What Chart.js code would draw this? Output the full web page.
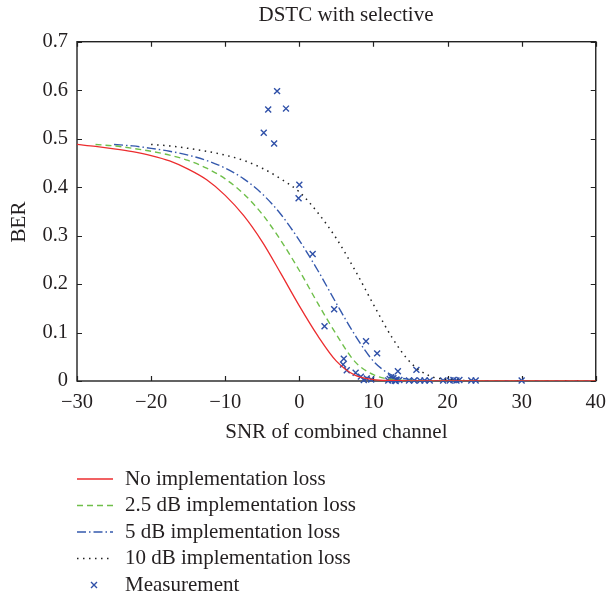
<!DOCTYPE html>
<html>
<head>
<meta charset="utf-8">
<script src="https://cdn.jsdelivr.net/npm/chart.js@4/dist/chart.umd.min.js"></script>
<style>
  html, body { margin: 0; padding: 0; background: #ffffff; }
  #wrap { width: 615px; height: 596px; position: relative; }
</style>
</head>
<body>
<div id="wrap"><canvas id="c" width="615" height="596"></canvas></div>
<script>
// ---- chart texts ----
const titleText = 'DSTC with selective';
const xAxisTitle = 'SNR of combined channel';
const yAxisTitle = 'BER';
const xTicks = [-30, -20, -10, 0, 10, 20, 30, 40];
const yTicks = [0, 0.1, 0.2, 0.3, 0.4, 0.5, 0.6, 0.7];
const seriesNames = [
  'No implementation loss',
  '2.5 dB implementation loss',
  '5 dB implementation loss',
  '10 dB implementation loss',
  'Measurement'
];

// ---- theoretical BER curves (SNR in dB, BER) ----
const snrNoLoss = [-30, -27.5, -25, -22.5, -20, -17.5, -15, -12.5, -10, -7.5, -5, -2.5, 0, 2.5, 5, 7.5, 10, 12.5, 15, 20, 25, 30, 35, 40];
const berNoLoss = [0.488, 0.484, 0.479, 0.473, 0.465, 0.454, 0.437, 0.415, 0.383, 0.341, 0.287, 0.222, 0.155, 0.093, 0.041, 0.012, 0.003, 0.001, 0.0003, 0, 0, 0, 0, 0];

const snrLoss25 = [-27.5, -25, -22.5, -20, -17.5, -15, -12.5, -10, -7.5, -5, -2.5, 0, 2.5, 5, 7.5, 10, 12.5, 15, 17.5, 20, 25, 30, 35, 40];
const berLoss25 = [0.488, 0.485, 0.480, 0.474, 0.466, 0.455, 0.439, 0.417, 0.386, 0.344, 0.290, 0.228, 0.160, 0.096, 0.040, 0.013, 0.003, 0.001, 0.0003, 0, 0, 0, 0, 0];

const snrLoss5 = [-25, -22.5, -20, -17.5, -15, -12.5, -10, -7.5, -5, -2.5, 0, 2.5, 5, 7.5, 10, 12.5, 15, 17.5, 20, 22.5, 25, 30, 35, 40];
const berLoss5 = [0.488, 0.485, 0.480, 0.474, 0.466, 0.455, 0.439, 0.417, 0.386, 0.344, 0.290, 0.228, 0.160, 0.095, 0.041, 0.012, 0.003, 0.001, 0.0003, 0, 0, 0, 0, 0];

const snrLoss10 = [-20, -17.5, -15, -12.5, -10, -7.5, -5, -2.5, 0, 2.5, 5, 7.5, 10, 12.5, 15, 17.5, 20, 22.5, 25, 27.5, 30, 35, 40];
const berLoss10 = [0.488, 0.485, 0.480, 0.474, 0.466, 0.455, 0.439, 0.417, 0.390, 0.347, 0.294, 0.229, 0.158, 0.090, 0.038, 0.011, 0.003, 0.001, 0.0003, 0, 0, 0, 0];

// ---- measured points ----
const measSnr = [-4.8, -4.2, -3.0, -3.4, -1.8, 0.0, -0.1, 1.8, 3.4, 4.7, 6.0, 5.9, 6.4, 7.6, 8.3, 9.0, 10.5, 9.1, 9.7, 8.7,
  12.2, 12.5, 12.7, 12.9, 13.1, 12.4, 13.3, 13.0, 12.0, 13.5, 15.8, 14.8, 15.5, 16.3, 16.9, 17.6, 19.4, 20.3, 20.8, 21.2, 21.6, 23.2, 23.8, 30.0];
const measBer = [0.512, 0.560, 0.598, 0.490, 0.562, 0.405, 0.377, 0.262, 0.113, 0.148, 0.046, 0.034, 0.022, 0.017, 0.009, 0.082, 0.057, 0.005, 0.003, 0.002,
  0.004, 0.002, 0.006, 0.001, 0.003, 0.008, 0.020, 0.000, 0.001, 0.002, 0.023, 0.001, 0.001, 0.001, 0.001, 0.001, 0.001, 0.001, 0.002, 0.001, 0.002, 0.001, 0.001, 0.001];

const toXY = (xs, ys) => xs.map((v, i) => ({ x: v, y: ys[i] }));

const FONT = '"Liberation Serif", "Times New Roman", serif';
const TEXT = '#231f20';
const FS_TICK = 20.5;
const FS_TEXT = 21;

const lineBase = {
  type: 'line',
  fill: false,
  pointRadius: 0,
  cubicInterpolationMode: 'monotone',
  borderCapStyle: 'butt'
};

const datasets = [
  Object.assign({}, lineBase, { label: seriesNames[0], data: toXY(snrNoLoss, berNoLoss), borderColor: '#ec2d2f', borderWidth: 1.3, borderDash: [] }),
  Object.assign({}, lineBase, { label: seriesNames[1], data: toXY(snrLoss25, berLoss25), borderColor: '#6fbf4a', borderWidth: 1.4, borderDash: [6, 4] }),
  Object.assign({}, lineBase, { label: seriesNames[2], data: toXY(snrLoss5, berLoss5), borderColor: '#3559ad', borderWidth: 1.4, borderDash: [9, 3, 1.5, 3] }),
  Object.assign({}, lineBase, { label: seriesNames[3], data: toXY(snrLoss10, berLoss10), borderColor: '#222222', borderWidth: 1.5, borderDash: [1.5, 4.5] }),
  {
    type: 'scatter', label: seriesNames[4], data: toXY(measSnr, measBer),
    showLine: false, pointStyle: 'crossRot', pointRadius: 4.2, pointHoverRadius: 4.2,
    borderColor: '#2f50a8', backgroundColor: '#2f50a8', pointBorderWidth: 1.4, clip: false
  }
];

// frame, inward ticks, axis titles, title and legend
const decor = {
  id: 'decor',
  beforeDatasetsDraw(chart) {
    const { ctx, chartArea: a, scales: { x, y } } = chart;
    ctx.save();
    ctx.strokeStyle = '#222222';
    ctx.lineWidth = 1.4;
    ctx.strokeRect(a.left, a.top, a.right - a.left, a.bottom - a.top);
    ctx.lineWidth = 1.2;
    ctx.beginPath();
    x.ticks.forEach(t => {
      const px = Math.round(x.getPixelForValue(t.value)) + 0.5;
      ctx.moveTo(px, a.bottom); ctx.lineTo(px, a.bottom - 5);
      ctx.moveTo(px, a.top); ctx.lineTo(px, a.top + 5);
    });
    y.ticks.forEach(t => {
      const py = Math.round(y.getPixelForValue(t.value)) + 0.5;
      ctx.moveTo(a.left, py); ctx.lineTo(a.left + 5, py);
      ctx.moveTo(a.right, py); ctx.lineTo(a.right - 5, py);
    });
    ctx.stroke();
    ctx.restore();
  },
  afterDraw(chart) {
    const { ctx, chartArea: a } = chart;
    ctx.save();
    ctx.fillStyle = TEXT;
    ctx.font = FS_TEXT + 'px ' + FONT;
    ctx.textBaseline = 'middle';
    ctx.textAlign = 'center';
    ctx.fillText(titleText, 346, 15);
    ctx.fillText(xAxisTitle, (a.left + a.right) / 2, 432);
    ctx.save();
    ctx.translate(19, 222);
    ctx.rotate(-Math.PI / 2);
    ctx.fillText(yAxisTitle, 0, 0);
    ctx.restore();

    // legend
    const rowY = [479, 505.5, 532, 558.5, 585];
    const x0 = 77, x1 = 113, tx = 125;
    chart.data.datasets.forEach((ds, i) => {
      const yy = rowY[i];
      ctx.save();
      ctx.strokeStyle = ds.borderColor;
      if (ds.type === 'scatter') {
        const cx = 94, r = 3;
        ctx.lineWidth = 1.4;
        ctx.beginPath();
        ctx.moveTo(cx - r, yy - r); ctx.lineTo(cx + r, yy + r);
        ctx.moveTo(cx - r, yy + r); ctx.lineTo(cx + r, yy - r);
        ctx.stroke();
      } else {
        ctx.lineWidth = ds.borderWidth;
        ctx.setLineDash(ds.borderDash || []);
        ctx.beginPath();
        ctx.moveTo(x0, yy); ctx.lineTo(x1, yy);
        ctx.stroke();
      }
      ctx.restore();
      ctx.textAlign = 'left';
      ctx.fillStyle = TEXT;
      ctx.fillText(ds.label, tx, yy);
    });
    ctx.restore();
  }
};

new Chart(document.getElementById('c'), {
  data: { datasets },
  options: {
    responsive: false,
    animation: false,
    events: [],
    layout: { padding: { left: 0, right: 13, top: 41.7, bottom: 596 - 381 - 34 } },
    plugins: { legend: { display: false }, title: { display: false }, tooltip: { enabled: false } },
    scales: {
      x: {
        type: 'linear', min: -30, max: 40,
        afterBuildTicks: s => { s.ticks = xTicks.map(v => ({ value: v })); },
        afterFit: s => { s.height = 34; },
        grid: { display: false, drawTicks: false },
        border: { display: false },
        ticks: {
          color: TEXT, padding: 9, maxRotation: 0,
          font: { family: FONT, size: FS_TICK },
          callback: v => String(v).replace('-', '\u2212')
        }
      },
      y: {
        type: 'linear', min: 0, max: 0.7,
        afterBuildTicks: s => { s.ticks = yTicks.map(v => ({ value: v })); },
        afterFit: s => { s.width = 77; },
        grid: { display: false, drawTicks: false },
        border: { display: false },
        ticks: {
          color: TEXT, padding: 9,
          font: { family: FONT, size: FS_TICK },
          callback: v => String(Math.round(v * 10) / 10)
        }
      }
    }
  },
  plugins: [decor]
});
</script>
</body>
</html>
